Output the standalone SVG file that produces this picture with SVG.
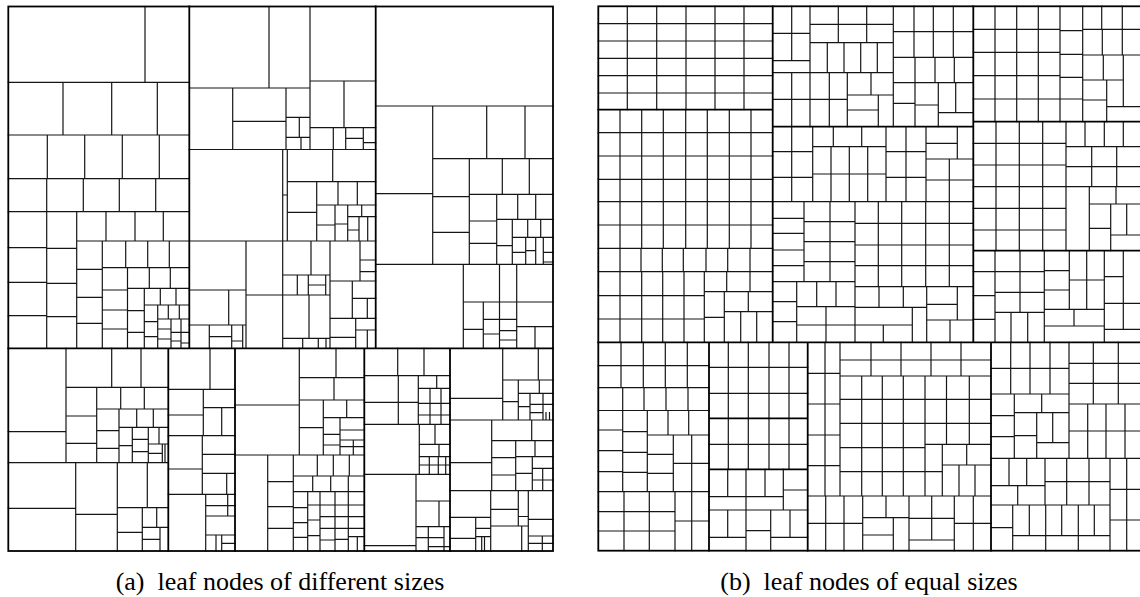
<svg xmlns="http://www.w3.org/2000/svg" width="1140" height="597" viewBox="0 0 1140 597">
<style>
.t{fill:none;stroke:#151515;stroke-width:1.2;stroke-linecap:square}
.m{fill:none;stroke:#000;stroke-width:1.8;stroke-linecap:square}
.cap{font-family:"Liberation Serif","Times New Roman",serif;font-size:26px;fill:#000;text-anchor:middle}
</style>
<rect width="1140" height="597" fill="#fff"/>
<g id="treemap-a">
<path class="t" d="
M8.3 82.3H189.3 M145 6.5V82.3 M8.3 135H189.3 M63 82.3V135 M111.7 82.3V135 M157.3 82.3V135
M8.3 178.7H189.3 M47.3 135V178.7 M84.7 135V178.7 M122.3 135V178.7 M159.3 135V178.7
M8.3 211.7H189.3 M46.7 178.7V211.7 M83.3 178.7V211.7 M119.3 178.7V211.7 M155.7 178.7V211.7
M46.7 211.7V348.3 M8.3 247.7H46.7 M8.3 282.3H46.7 M8.3 315.7H46.7
M76.7 211.7V348.3 M46.7 248.3H76.7 M46.7 283.3H76.7 M46.7 316.7H76.7
M76.7 241H189.3 M106 211.7V241 M135 211.7V241 M163.3 211.7V241
M102.3 241V348.3 M76.7 269.3H102.3 M76.7 297.3H102.3 M76.7 323.3H102.3
M125.7 241V267.7 M147.7 241V267.7 M169.3 241V267.7 M102.3 267.7H189.3
M127.5 267.7V348.3 M149.3 267.7V288.3 M170.3 267.7V288.3 M127.5 288.3H189.3
M102.3 290H127.5 M102.3 310H127.5 M102.3 329H127.5
M144.3 288.3V348.3 M127.5 310.7H144.3 M127.5 332.3H144.3
M160.3 288.3V305 M176 288.3V305 M144.3 305H189.3 M157.7 305V348.3
M144.3 321.7H157.7 M144.3 336.7H157.7 M168.3 305V319 M179.3 305V319 M157.7 319H189.3
M171 319V348.3 M181 319V348.3 M157.7 329H171 M157.7 339H171 M171 332.3H181 M171 341H181 M181 332.3H189.3 M181 343H189.3
"/>
<path class="t" d="
M269 6.5V88 M310 6.5V149.5 M189.3 88H310 M310 81H375.7 M232.7 88V149.5 M286 88V149.5
M232.7 121.3H286 M286 117.3H310 M299.3 117.3V137.3 M286 137.3H310 M301 137.3V149.5
M344 81V127.7 M310 127.7H375.7 M333.3 127.7V149.5 M345.7 127.7V149.5 M363.3 127.7V149.5
M345.7 138.3H363.3 M363.3 142.7H375.7 M189.3 149.5H375.7
M282.7 149.5V241 M287.3 149.5V241 M282.7 195H287.3 M189.3 241H375.7
M332.7 149.5V181.7 M287.3 181.7H375.7 M316.7 181.7V241 M287.3 212.3H316.7
M338 181.7V205 M357.3 181.7V205 M316.7 205H375.7 M335 205V241 M316.7 225H335
M347.7 205V241 M335 224H347.7 M361.7 205V216.7 M347.7 216.7H375.7
M359 216.7V241 M367.7 216.7V241 M347.7 230H359
M246 241V348.3 M189.3 290H246 M228.7 290V325 M189.3 325H246
M209.3 325V348.3 M231.7 325V348.3 M242.7 325V348.3 M209.3 336.7H231.7 M231.7 341H242.7
M282.7 241V348.3 M246 295H282.7 M311 241V275 M330 241V348.3 M282.7 275H330
M297.3 275V295 M308.3 275V295 M325.7 275V295 M308.3 285H325.7 M282.7 295H330
M309 295V338.3 M282.7 338.3H330 M302.7 338.3V348.3 M318.3 338.3V348.3 M326 338.3V348.3
M360 241V281 M360 260H375.7 M360 271.7H375.7 M330 281H375.7 M352.3 281V318.3
M352.3 298.3H375.7 M367.3 298.3V318.3 M330 318.3H375.7 M355.7 318.3V348.3
M330 337.3H355.7 M355.7 330H375.7 M367.3 330V348.3
"/>
<path class="t" d="
M375.7 106H553 M432.7 106V264.3 M375.7 193.7H432.7 M375.7 264.3H553
M486.7 106V158.7 M525 106V158.7 M432.7 158.7H553 M469.3 158.7V264.3
M432.7 196.7H469.3 M432.7 232.3H469.3 M502.3 158.7V194.3 M529.3 158.7V194.3
M469.3 194.3H553 M496.7 194.3V264.3 M469.3 221H496.7 M469.3 243.3H496.7
M517.7 194.3V219.3 M535.7 194.3V219.3 M496.7 219.3H553 M512.3 219.3V264.3 M496.7 245.7H512.3
M527.7 219.3V237.3 M540.7 219.3V237.3 M512.3 237.3H553 M525.7 237.3V264.3 M512.3 252.3H525.7
M535.7 237.3V264.3 M525.7 250.7H535.7 M543.3 237.3V264.3 M543.3 252.3H553 M543.3 262H553
M463.3 264.3V348.3 M499.5 264.3V348.3 M463.3 302H553 M483.3 302V348.3 M463.3 329.3H483.3
M483.3 319.3H499.5 M483.3 334H499.5 M516.7 264.3V348.3
M499.5 319.3H516.7 M499.5 330.7H516.7 M499.5 340H516.7 M516.7 326.7H553 M535 326.7V348.3
"/>
<path class="t" d="
M8.3 462.7H168.3 M66 348.3V462.7 M8.3 431.7H66 M66 387.3H168.3 M111.7 348.3V387.3 M141 348.3V387.3
M96.7 387.3V462.7 M66 416H96.7 M66 443.3H96.7 M96.7 409H168.3 M120.7 387.3V409 M144.3 387.3V409
M119 409V462.7 M96.7 430.7H119 M96.7 448.3H119 M119 427.3H168.3 M136.7 409V427.3 M153.3 409V427.3
M132.3 427.3V462.7 M119 445.7H132.3 M148.3 427.3V462.7 M132.3 439.3H148.3 M132.3 451.7H148.3
M159 427.3V444 M148.3 444H168.3 M148.3 453.3H162.3 M162.3 444V462.7 M165 444V462.7
M75.7 462.7V551 M8.3 508.3H75.7 M117.3 462.7V551 M75.7 514.3H117.3
M147.3 462.7V507.7 M117.3 507.7H168.3 M142.3 507.7V551 M117.3 532.3H142.3
M156.7 507.7V527.3 M142.3 527.3H168.3 M160 527.3V551 M142.3 539.3H160
M210 348.3V389.3 M168.3 389.3H235 M203.3 389.3V435.7 M168.3 415H203.3 M203.3 407.7H235 M221.7 407.7V435.7
M168.3 435.7H235 M202.3 435.7V494.3 M168.3 469H202.3 M202.3 454.3H235 M202.3 473.3H235 M226.7 473.3V494.3
M168.3 494.3H235 M205.7 494.3V551 M205.7 505.7H235 M205.7 516H235 M205.7 535H235 M227.7 494.3V516
M216 535V551 M221.7 535V551 M221.7 543.3H235
M299.3 348.3V455 M235 405H299.3 M235 455H364.3 M336 348.3V377.7 M299.3 377.7H364.3 M334 377.7V400
M299.3 400H364.3 M323.3 400V455 M299.3 427.7H323.3 M346.7 400V417.7 M323.3 417.7H364.3 M340 417.7V455
M323.3 434.3H340 M323.3 445H340 M340 430H364.3 M340 440H364.3 M340 446.7H364.3 M353.3 440V455
M267.7 455V551 M293.3 455V551 M267.7 481.7H293.3 M267.7 506.7H293.3 M267.7 528.3H293.3
M317.3 455V476 M333.3 455V476 M349.3 455V476 M293.3 476H364.3
M312.7 476V491.7 M330.7 476V491.7 M348.3 476V491.7 M293.3 491.7H364.3
M307.7 491.7V551 M320 491.7V551 M335 491.7V551 M348.3 491.7V551
M293.3 507.7H307.7 M293.3 522.7H307.7 M293.3 537.3H307.7
M307.7 505H320 M307.7 520H320 M307.7 535.7H320
M320 505H335 M320 516.7H335 M320 528.3H335 M320 540H335
M335 505H348.3 M335 516.7H348.3 M335 528.3H348.3 M335 539.3H348.3
M348.3 505H364.3 M348.3 516.7H364.3 M348.3 528.3H364.3 M348.3 536.7H364.3 M357.3 536.7V551
M397.7 348.3V375.7 M424 348.3V375.7 M364.3 375.7H450 M418.3 375.7V424.3 M364.3 402.3H418.3 M398.3 375.7V424.3
M418.3 388.3H450 M418.3 403.3H450 M418.3 415H450 M436.7 375.7V388.3 M430 388.3V424.3 M441 388.3V424.3
M364.3 424.3H450 M419.3 424.3V474.3 M435 424.3V444.3 M419.3 444.3H450 M439 444.3V456.7 M419.3 456.7H450
M429.3 456.7V474.3 M438.3 456.7V474.3 M445.7 456.7V474.3 M419.3 465H450 M364.3 474.3H450
M416 474.3V551 M364.3 545.7H416 M416 501H450 M439 501V526.7 M416 526.7H450 M428.3 526.7V551 M444 526.7V551
M416 537.7H444 M428.3 546.7H450
M502.7 348.3V420 M450 398.3H502.7 M538.3 348.3V380 M502.7 380H553 M518.3 380V420 M502.7 401.7H518.3
M539.3 380V393.3 M518.3 393.3H553 M530 393.3V420 M518.3 406.7H530 M543 393.3V420 M530 404.3H553 M530 412.7H543
M546 412.7V420 M549.5 412.7V420 M450 420H553
M491.7 420V490.7 M450 462.7H491.7 M531.7 420V440.7 M491.7 440.7H553 M515.7 440.7V490.7
M491.7 457.7H515.7 M491.7 475H515.7 M535 440.7V456.7 M515.7 456.7H553 M532.3 456.7V490.7 M515.7 473.3H532.3
M532.3 468.3H553 M532.3 480H553 M542.7 468.3V490.7 M450 490.7H553
M450 517.3H490.7 M475.7 517.3V551 M450 538.3H475.7 M475.7 528.3H490.7 M475.7 536.7H490.7 M481.7 536.7V551 M484.5 536.7V551
M490.7 490.7V551 M518.3 490.7V526 M490.7 509.3H518.3 M528.3 490.7V551 M528.3 519.3H553 M490.7 526H528.3
M521.7 526V551 M528.3 536H553 M528.3 543.3H553 M542.3 536V551 M518.3 516.5H528.3
"/>
<path class="m" d="M8.3 348.3H553 M189.3 6.5V348.3 M375.7 6.5V348.3 M168.3 348.3V551 M235 348.3V551 M364.3 348.3V551 M450 348.3V551"/>
<rect class="m" x="8.3" y="6.5" width="544.7" height="544.5"/>
</g>
<g id="treemap-b">
<path class="t" d="
M598.3 23.7H772.7 M598.3 41H772.7 M598.3 58.3H772.7 M598.3 75.7H772.7 M598.3 93H772.7
M627.3 6.3V109.7 M656.7 6.3V109.7 M686 6.3V109.7 M715 6.3V109.7 M744 6.3V109.7
M598.3 132.7H772.7 M598.3 156H772.7 M598.3 179.3H772.7 M598.3 201.7H772.7 M598.3 225H772.7 M598.3 248.3H772.7 M598.3 271.7H772.7
M598.3 295.7H704.3 M598.3 319H704.3
M620 109.7V248.3 M641.7 109.7V248.3 M663.3 109.7V248.3 M685.7 109.7V248.3 M707.3 109.7V248.3 M729.3 109.7V248.3 M751 109.7V248.3
M620 248.3V271.7 M641 248.3V271.7 M662.3 248.3V271.7 M683.3 248.3V271.7 M706 248.3V271.7 M727.7 248.3V271.7 M750 248.3V271.7
M620 271.7V342.3 M641.7 271.7V342.3 M662.7 271.7V342.3 M684 271.7V342.3 M704.3 271.7V342.3
M726.7 271.7V291.7 M750 271.7V291.7 M704.3 291.7H772.7 M724.3 291.7V342.3 M704.3 317.3H724.3
M748.3 291.7V311.7 M724.3 311.7H772.7 M740.7 311.7V342.3 M756.7 311.7V342.3
"/>
<path class="t" d="
M791.7 6.3V60.7 M772.7 33.3H810 M772.7 60.7H810 M810 6.3V72.7 M772.7 72.7H893.3
M810 24.3H893.3 M838.3 6.3V42.7 M866.7 6.3V42.7 M810 42.7H893.3
M827.3 42.7V72.7 M844 42.7V72.7 M860.7 42.7V72.7 M877.3 42.7V72.7 M893.3 6.3V126.7
M893.3 31.7H973.3 M893.3 57.3H973.3 M914 6.3V57.3 M933.3 6.3V57.3 M953.3 6.3V57.3
M915 57.3V82.7 M935 57.3V82.7 M954.3 57.3V82.7 M893.3 82.7H973.3
M915 82.7V126.7 M893.3 103.3H915 M938.3 82.7V126.7 M915 105H938.3 M955.7 82.7V112.7 M938.3 112.7H973.3
M791.7 72.7V126.7 M810 72.7V126.7 M829.3 72.7V126.7 M847.3 72.7V126.7 M772.7 99.3H847.3
M871 72.7V95 M847.3 95H893.3 M878.3 95V126.7 M847.3 110H878.3
M791.7 126.7V201.7 M772.7 151.7H812.7 M772.7 177.3H812.7 M812.7 126.7V201.7
M833.3 126.7V146.7 M861.7 126.7V146.7 M812.7 146.7H886 M831 146.7V201.7 M849.3 146.7V201.7 M867.7 146.7V201.7 M812.7 174H886
M886 126.7V201.7 M906 126.7V201.7 M886 151.7H926 M886 177.3H926 M926 126.7V201.7
M957.3 126.7V159 M926 143.3H957.3 M926 159H973.3 M949.3 159V201.7 M926 180H973.3
M772.7 201.7H973.3
M804 201.7V281.7 M772.7 218.3H804 M772.7 233.3H804 M772.7 250H804 M772.7 265.7H804
M830 201.7V281.7 M804 221.7H855 M804 241.7H855 M804 261.7H855 M772.7 281.7H855 M855 201.7V342.3
M878.3 201.7V286.7 M901.7 201.7V286.7 M925.7 201.7V286.7 M949.3 201.7V286.7
M855 223.3H973.3 M855 245H973.3 M855 265.7H973.3 M855 286.7H973.3
M796.7 281.7V342.3 M772.7 301.7H796.7 M772.7 321.7H796.7 M816.7 281.7V306.7 M836 281.7V306.7
M796.7 306.7H855 M826 306.7V342.3 M796.7 325H855
M879 286.7V307.3 M903.3 286.7V307.3 M926.7 286.7V342.3 M855 307.3H926.7
M883.3 325V342.3 M855 325H912.3 M912.3 307.3V342.3
M926.7 304.3H957.3 M957.3 286.7V320 M926.7 320H973.3 M950 320V342.3
"/>
<path class="t" d="
M995 6.3V121.7 M1016.7 6.3V121.7 M1038.3 6.3V121.7 M1060 6.3V121.7
M973.3 29.3H1060 M973.3 52.3H1060 M973.3 75.7H1060 M973.3 99H1060
M1060 30.7H1082.7 M1060 54.3H1082.7 M1060 77.3H1082.7 M1060 99H1082.7 M1082.7 6.3V121.7
M1101.7 6.3V29.3 M1122.3 6.3V55 M1082.7 29.3H1143 M1102.3 29.3V55 M1082.7 55H1143
M1103.3 55V80 M1082.7 80H1123.3 M1123.3 55V106.7 M1106.7 80V121.7 M1082.7 100H1106.7 M1106.7 106.7H1143
M996 121.7V250.7 M1019.3 121.7V250.7 M1042.7 121.7V250.7 M1066 121.7V250.7
M973.3 143.3H1066 M973.3 165H1066 M973.3 186.7H1066 M973.3 208.3H1066 M973.3 230H1066
M1085 121.7V146.7 M1104.3 121.7V146.7 M1123.3 121.7V146.7 M1066 146.7H1143
M1091.7 146.7V186.7 M1116.7 146.7V186.7 M1066 166.7H1143 M1066 186.7H1143
M1089.3 186.7V250.7 M1116 186.7V204 M1089.3 204H1143 M1110.7 204V250.7 M1089.3 228.3H1110.7
M1126.7 204V235 M1110.7 235H1143
M995 250.7V342.3 M973.3 271.7H995 M973.3 295.7H995 M973.3 319.3H995
M995 271.7H1044.3 M1020 250.7V312.3 M995 292.3H1044.3 M995 312.3H1044.3 M1011 312.3V342.3 M1027.7 312.3V342.3
M1044.3 250.7V342.3 M1044.3 270.7H1069.3 M1044.3 290H1069.3 M1069.3 250.7V309.3
M1069.3 280H1104.3 M1086.7 250.7V309.3 M1044.3 309.3H1104.3 M1074 309.3V326 M1044.3 326H1104.3
M1104.3 250.7V342.3 M1123.3 250.7V329.3 M1104.3 276.7H1123.3 M1104.3 303.3H1143 M1104.3 329.3H1143
"/>
<path class="t" d="
M621 342.3V387.7 M643.3 342.3V387.7 M665.3 342.3V387.7 M687.3 342.3V387.7 M598.3 365.7H709 M598.3 387.7H709
M622.7 387.7V491.7 M644 387.7V410.5 M666 387.7V410.5 M688 387.7V410.5 M598.3 410.5H709
M598.3 430H622.7 M598.3 450.7H622.7 M598.3 471.7H622.7
M622.7 431.7H647.3 M622.7 452.3H647.3 M622.7 472.3H647.3 M647.3 410.5V491.7
M668 410.5V435 M688.7 410.5V435 M647.3 435H709 M647.3 454.3H673.3 M647.3 473.3H673.3 M673.3 435V491.7
M691.7 435V491.7 M673.3 463.3H709 M598.3 491.7H709
M624 491.7V550.7 M649.3 491.7V550.7 M675 491.7V550.7 M691.7 491.7V550.7
M598.3 511.7H675 M598.3 531H675 M675 521H709
M728.3 342.3V469.3 M748.3 342.3V469.3 M769 342.3V469.3 M789 342.3V469.3
M709 367.3H807.7 M709 393.3H807.7 M709 444.3H807.7
M727.7 469.3V496.7 M746 469.3V510 M765 469.3V496.7 M783.3 469.3V510 M783.3 490H807.7 M709 496.7H783.3 M709 510H807.7
M727.7 510V537.3 M709 537.3H746 M746 510V550.7 M746 530.7H770.7 M770.7 510V550.7 M790 510V537.3 M770.7 537.3H807.7
M825 342.3V496 M807.7 373.3H840 M807.7 404H840 M807.7 435H840 M807.7 465.7H840 M840 342.3V496
M871 342.3V376 M901 342.3V376 M931 342.3V376 M961 342.3V376 M840 360H991 M840 376H991
M861.7 376V496 M882.3 376V496 M903.3 376V496 M925 376V496 M946.5 376V444.3 M969.3 376V444.3
M840 399.3H991 M840 423.3H991 M840 447.7H925 M840 471.7H942.3
M925 444.3H991 M942.3 444.3V496 M966.7 444.3V465 M942.3 465H991 M959 465V496 M975 465V496
M807.7 496H991
M807.7 523.3H862.7 M825.7 496V550.7 M844 496V550.7 M862.7 496V550.7
M862.7 517.7H909 M886 496V517.7 M862.7 535H893.3 M893.3 517.7V550.7 M909 496V550.7
M931.7 496V540 M909 518.3H954.3 M909 540H954.3 M954.3 496V550.7 M954.3 523.3H991 M973.3 496V550.7
M1010.7 342.3V394 M1030 342.3V394 M1050 342.3V394 M991 368.3H1069 M991 394H1069
M991 415.7H1014.3 M991 436.7H1014.3 M1014.3 394V458.3 M1041.7 394V412.7 M1014.3 412.7H1069
M1036.7 412.7V458.3 M1014.3 435.7H1036.7 M1052.7 412.7V442.7 M1036.7 442.7H1069 M1069 342.3V458.3
M1093.3 342.3V404 M1118.3 342.3V404 M1069 363.3H1143 M1069 383.3H1143 M1069 404H1143
M1087.7 404V458.3 M1106 404V458.3 M1125 404V458.3 M1069 431H1143
M991 458.3H1143
M1009 458.3V485.7 M1026.7 458.3V485.7 M1045 458.3V505 M991 485.7H1045 M1017.7 485.7V505
M1066.7 458.3V505 M1089 458.3V505 M1045 481.7H1110 M1110 458.3V550.7
M1126.7 458.3V550.7 M1110 489.3H1143 M1110 520H1143 M991 505H1110
M991 527.7H1012.7 M1012.7 505V550.7 M1029.3 505V535.7 M1045.7 505V550.7 M1061.7 505V535.7 M1078.3 505V550.7 M1094.3 505V535.7
M1012.7 535.7H1110
"/>
<path class="m" d="M598.3 342.3H1143 M772.7 6.3V342.3 M973.3 6.3V342.3 M709 342.3V550.7 M807.7 342.3V550.7 M991 342.3V550.7
M598.3 109.7H772.7 M772.7 126.7H973.3 M973.3 121.7H1143 M973.3 250.7H1143 M709 418.3H807.7 M709 469.3H807.7"/>
<rect class="m" x="598.3" y="6.3" width="545" height="544.4"/>
</g>
<g id="captions">
<text class="cap" x="280" y="590">(a)&#160; leaf nodes of different sizes</text>
<text class="cap" x="869" y="590">(b)&#160; leaf nodes of equal sizes</text>
</g>
</svg>
